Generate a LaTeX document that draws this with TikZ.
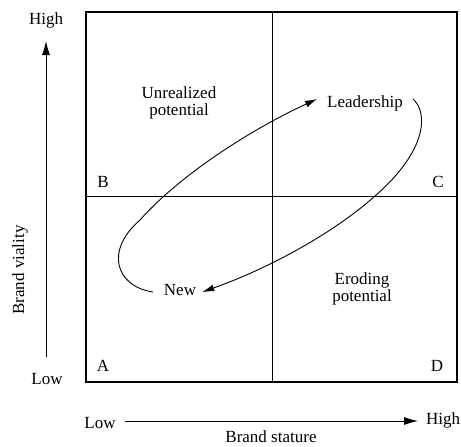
\documentclass[tikz,border=0pt]{standalone}
\usepackage{fontspec}
\setmainfont{Liberation Serif}
\usetikzlibrary{arrows.meta}
\begin{document}
\begin{tikzpicture}[x=1pt,y=-1pt,
  every node/.style={font=\fontsize{17}{19}\selectfont, inner sep=4pt},
  lbl/.style={align=center, font=\fontsize{17}{17}\selectfont},
  frame/.style={line width=1.1pt},
  divider/.style={line width=1pt},
  cycle/.style={line width=0.9pt, -{Latex[length=12pt,width=7pt]}},
  axis/.style={line width=0.9pt, -{Latex[length=14pt,width=8pt]}}]
\useasboundingbox (0,0) rectangle (461,447);
% frame and quadrants
\coordinate (tl) at (86,12);
\coordinate (br) at (457,382);
\draw[frame] (tl) rectangle (br);
\coordinate (vt) at (272,12);
\coordinate (vb) at (272,382);
\coordinate (hl) at (86,196);
\coordinate (hr) at (457,196);
\draw[divider] (vt) -- (vb);
\draw[divider] (hl) -- (hr);
% quadrant letters
\node (qB) at (103,182) {B};
\node (qC) at (438,182) {C};
\node (qA) at (103,366) {A};
\node (qD) at (437,366) {D};
% quadrant labels
\node[lbl, inner sep=0pt] (unreal) at (179,103) {Unrealized\\potential};
\node[lbl, inner sep=0pt] (erode) at (362,289) {Eroding\\potential};
\node (lead) at (365,103) {Leadership};
\node (new) at (180,290) {New};
% cycle arrows
\draw[cycle] ([xshift=6pt,yshift=4pt]lead.east) .. controls (428,112) and (428,150) .. (375,196)
  .. controls (335,232) and (270,268) .. ([xshift=2pt,yshift=-2pt]new.east);
\draw[cycle] ([xshift=-7pt,yshift=-2pt]new.west) .. controls (115,286) and (105,250) .. (140,220)
  .. controls (180,175) and (250,130) .. ([xshift=-6pt,yshift=4pt]lead.west);
% vertical axis
\node (vhigh) at (46,20) {High};
\node (vlow) at (47,379) {Low};
\coordinate (vaxB) at (46,357);
\coordinate (vaxT) at (46,41);
\draw[axis] (vaxB) -- (vaxT);
\node[rotate=90] (vtitle) at (20,270) {Brand viality};
% horizontal axis
\node (hlow) at (100,423) {Low};
\node (hhigh) at (443,420) {High};
\coordinate (haxL) at (125,421);
\coordinate (haxR) at (418,421);
\draw[axis] (haxL) -- (haxR);
\node (htitle) at (271,437) {Brand stature};
\end{tikzpicture}
\end{document}
